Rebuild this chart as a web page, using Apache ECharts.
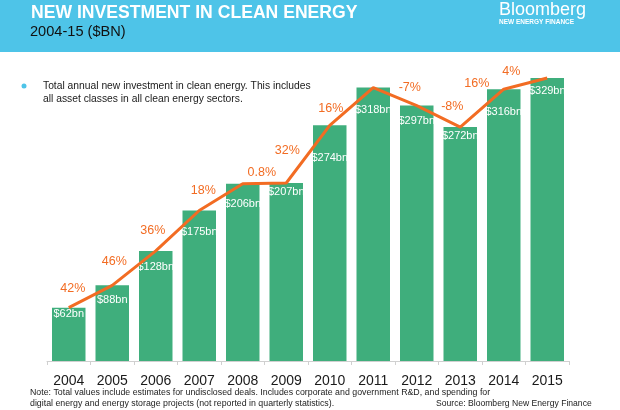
<!DOCTYPE html>
<html>
<head>
<meta charset="utf-8">
<script src="https://cdn.jsdelivr.net/npm/echarts@6/dist/echarts.min.js"></script>
<style>
html,body{margin:0;padding:0;background:#fff;}
#c{width:620px;height:410px;}
</style>
</head>
<body>
<div id="c"></div>
<script>
// ---- data ----
const years = ['2004','2005','2006','2007','2008','2009','2010','2011','2012','2013','2014','2015'];
const investment = [62, 88, 128, 175, 206, 207, 274, 318, 297, 272, 316, 329];
const growthLabels = ['42%','46%','36%','18%','0.8%','32%','16%','','-7%','-8%','16%','4%'];

// ---- style: label nudges ----
const barLabelNudge = [-2, 6, 8, 13, 12, 0, 24, 14, 7, 0, 14, 4];
const growthNudge = [[4,-8],[2,-12],[-3,-9],[4,-8],[19,0],[1,-21],[1,-5],[0,0],[-7,-7],[-8,-9],[-27,6],[-36,5]];

const GREEN = '#3fae7c';
const ORANGE = '#f26c23';
const CYAN = '#4ec4e8';
const FONT = '"Liberation Sans", Arial, sans-serif';

const chart = echarts.init(document.getElementById('c'), null, {renderer: 'canvas'});

const barData = investment.map((v, i) => ({
  value: v,
  label: { offset: [0, barLabelNudge[i]] }
}));
const lineData = investment.map((v, i) => ({
  value: v,
  label: { show: growthLabels[i] !== '', offset: growthNudge[i] }
}));

chart.setOption({
  animation: false,
  backgroundColor: '#ffffff',
  textStyle: { fontFamily: FONT },
  grid: { left: 47, right: 51, top: 60, bottom: 49, containLabel: false },
  xAxis: {
    type: 'category',
    data: years,
    axisLine: { show: true, lineStyle: { color: '#d0d0d0', width: 1 } },
    axisTick: { show: true, length: 4, lineStyle: { color: '#d0d0d0' } },
    axisLabel: { color: '#1a1a1a', fontSize: 14, margin: 13, fontFamily: FONT }
  },
  yAxis: {
    type: 'value', min: 0, max: 350, show: false,
    splitLine: { show: false }
  },
  series: [
    {
      type: 'bar',
      data: barData,
      barWidth: '77%',
      itemStyle: { color: GREEN },
      label: {
        show: true, position: 'insideTop', distance: 3,
        color: '#ffffff', fontSize: 11, fontFamily: FONT,
        formatter: p => '$' + p.value + 'bn'
      },
      z: 2
    },
    {
      type: 'line',
      data: lineData,
      showSymbol: true,
      symbol: 'circle',
      symbolSize: 0,
      lineStyle: { color: ORANGE, width: 3 },
      itemStyle: { color: ORANGE },
      label: {
        show: true, position: 'top', distance: 5,
        color: ORANGE, fontSize: 12.5, fontFamily: FONT,
        formatter: p => growthLabels[p.dataIndex]
      },
      z: 5
    }
  ],
  graphic: [
    { type: 'rect', left: 0, top: 0, z: -10, shape: { width: 620, height: 52 }, style: { fill: CYAN } },
    { type: 'text', left: 31, top: 4, style: { text: 'NEW INVESTMENT IN CLEAN ENERGY', fill: '#ffffff', font: 'bold 17.6px ' + FONT } },
    { type: 'text', left: 30, top: 24, style: { text: '2004-15 ($BN)', fill: '#111111', font: '14.6px ' + FONT } },
    { type: 'text', left: 499, top: 1, style: { text: 'Bloomberg', fill: '#ffffff', font: '18px ' + FONT } },
    { type: 'text', left: 499, top: 19, style: { text: 'NEW ENERGY FINANCE', fill: '#ffffff', font: 'bold 6.5px ' + FONT } },
    { type: 'circle', shape: { cx: 24, cy: 86, r: 2.5 }, style: { fill: CYAN } },
    { type: 'text', left: 43, top: 80, style: { text: 'Total annual new investment in clean energy. This includes\nall asset classes in all clean energy sectors.', fill: '#1a1a1a', font: '10.3px ' + FONT, lineHeight: 12.5 } },
    { type: 'text', left: 30, top: 387, style: { text: 'Note: Total values include estimates for undisclosed deals. Includes corporate and government R&D, and spending for\ndigital energy and energy storage projects (not reported in quarterly statistics).', fill: '#222222', font: '8.8px ' + FONT, lineHeight: 11 } },
    { type: 'text', left: 436, top: 399, style: { text: 'Source: Bloomberg New Energy Finance', fill: '#222222', font: '8.6px ' + FONT } }
  ]
});
</script>
</body>
</html>
